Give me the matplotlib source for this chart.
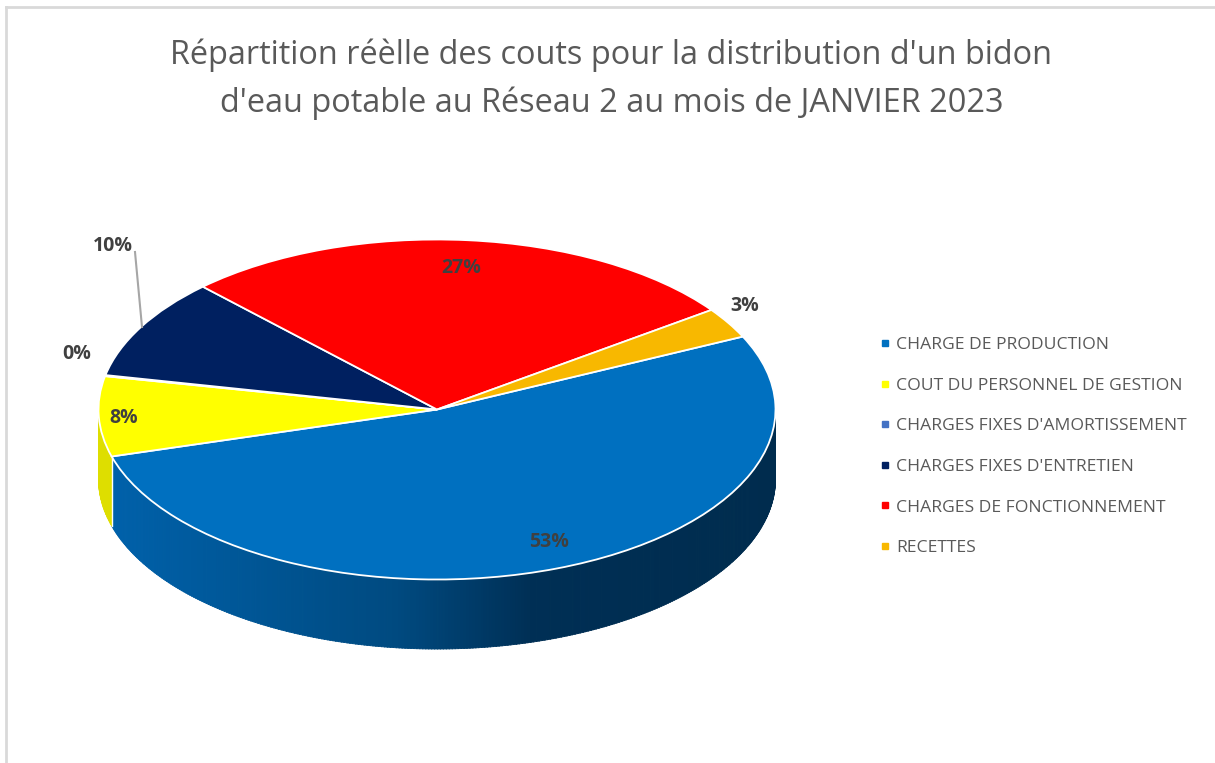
import numpy as np
import matplotlib
matplotlib.use("Agg")
import matplotlib.pyplot as plt
from matplotlib.collections import PolyCollection
from matplotlib.colors import to_rgb
from matplotlib.lines import Line2D

categories = ["CHARGE DE PRODUCTION", "COUT DU PERSONNEL DE GESTION",
              "CHARGES FIXES D'AMORTISSEMENT", "CHARGES FIXES D'ENTRETIEN",
              "CHARGES DE FONCTIONNEMENT", "RECETTES"]
values = [52.6, 7.6, 0.1, 9.6, 27.2, 2.9]
colors = ["#0070C0", "#FFFF00", "#4472C4", "#002060", "#FF0000", "#F8B800"]
title = "Répartition réèlle des couts pour la distribution d'un bidon\nd'eau potable au Réseau 2 au mois de JANVIER 2023"

W, H = 1215, 763
CX, CY, RX, RY, DEPTH = 437, 409.5, 338.5, 170, 69.5
START = 25.4
FONT = "Open Sans"
plt.rcParams["font.family"] = [FONT, "DejaVu Sans"]

fig = plt.figure(figsize=(W / 100, H / 100), dpi=100)
span = 1.25
ax = fig.add_axes([(CX - span * RX) / W, 1 - (CY + span * RY) / H,
                   2 * span * RX / W, 2 * span * RY / H])


def px(x, y):
    return ((x - CX) / RX, (CY - y) / RY)


wedges, _, autos = ax.pie(values, colors=colors, startangle=START, counterclock=False,
                          autopct=lambda p: f"{p:.0f}%",
                          wedgeprops=dict(edgecolor="white", linewidth=1.3, zorder=3),
                          textprops=dict(fontsize=14, fontweight="bold", color="#404040", zorder=5))
ax.set_aspect("auto")
ax.set_xlim(-span, span)
ax.set_ylim(-span, span)

# side wall of the pie, from the slice angles
depth = DEPTH / RY
angles = START - np.cumsum([0] + values) * 3.6
stops_x = np.array([-1.0, -0.12, 0.28, 1.0])
stops_c = np.array([to_rgb(c) for c in ["#0062AC", "#004A80", "#002F55", "#002C4E"]])


def strip(a0, a1):
    t0, t1 = np.radians([a0, a1])
    return [(np.cos(t0), np.sin(t0)), (np.cos(t1), np.sin(t1)),
            (np.cos(t1), np.sin(t1) - depth), (np.cos(t0), np.sin(t0) - depth)]


polys, cols = [], []
low_end = angles[1] % 360
for a in np.arange(low_end, 360, 0.5):
    polys.append(strip(a, min(a + 0.6, 360)))
    x = np.cos(np.radians(a))
    cols.append([np.interp(x, stops_x, stops_c[:, i]) for i in range(3)])
for a in np.arange(180, low_end, 0.5):
    polys.append(strip(a, min(a + 0.6, low_end)))
    cols.append(to_rgb("#DEDE00"))
wall = PolyCollection(polys, facecolors=cols, edgecolors="none", zorder=1, antialiased=True)
wall.set_edgecolor(cols)
wall.set_linewidth(0.6)
ax.add_collection(wall)
wall.set_clip_on(False)
t = np.radians(low_end)
ax.plot([np.cos(t)] * 2, [np.sin(t), np.sin(t) - depth], color="white", lw=1, zorder=2, clip_on=False)

# labels
label_px = [(549, 542), (124, 418), (77, 354), (113, 246), (461, 268), (745, 306)]
for txt, p in zip(autos, label_px):
    txt.set_position(px(*p))
    txt.set_ha("center")
    txt.set_va("center")
ax.plot(*zip(px(135, 252), px(142, 327)), color="#A6A6A6", lw=1.5, zorder=4)

# frame
fig.add_artist(Line2D([6 / W, 6 / W], [0, 1 - 7 / H], color="#D9D9D9", lw=2))
fig.add_artist(Line2D([6 / W, 1], [1 - 7 / H, 1 - 7 / H], color="#D9D9D9", lw=2))

fig.text(611.5 / W, 1 - 79.5 / H, title, ha="center", va="center", fontsize=23.4,
         color="#595959", linespacing=1.56)

handles = [Line2D([], [], ls="none", marker="s", ms=4.5, color=c) for c in colors]
fig.legend(handles, categories, loc="upper left", bbox_to_anchor=(880.5 / W, 1 - 337 / H),
           frameon=False, fontsize=12.6, labelcolor="#595959", labelspacing=1.39,
           handlelength=0.5, handletextpad=0.38, borderaxespad=0, borderpad=0)

fig.savefig("out.png", dpi=100)
